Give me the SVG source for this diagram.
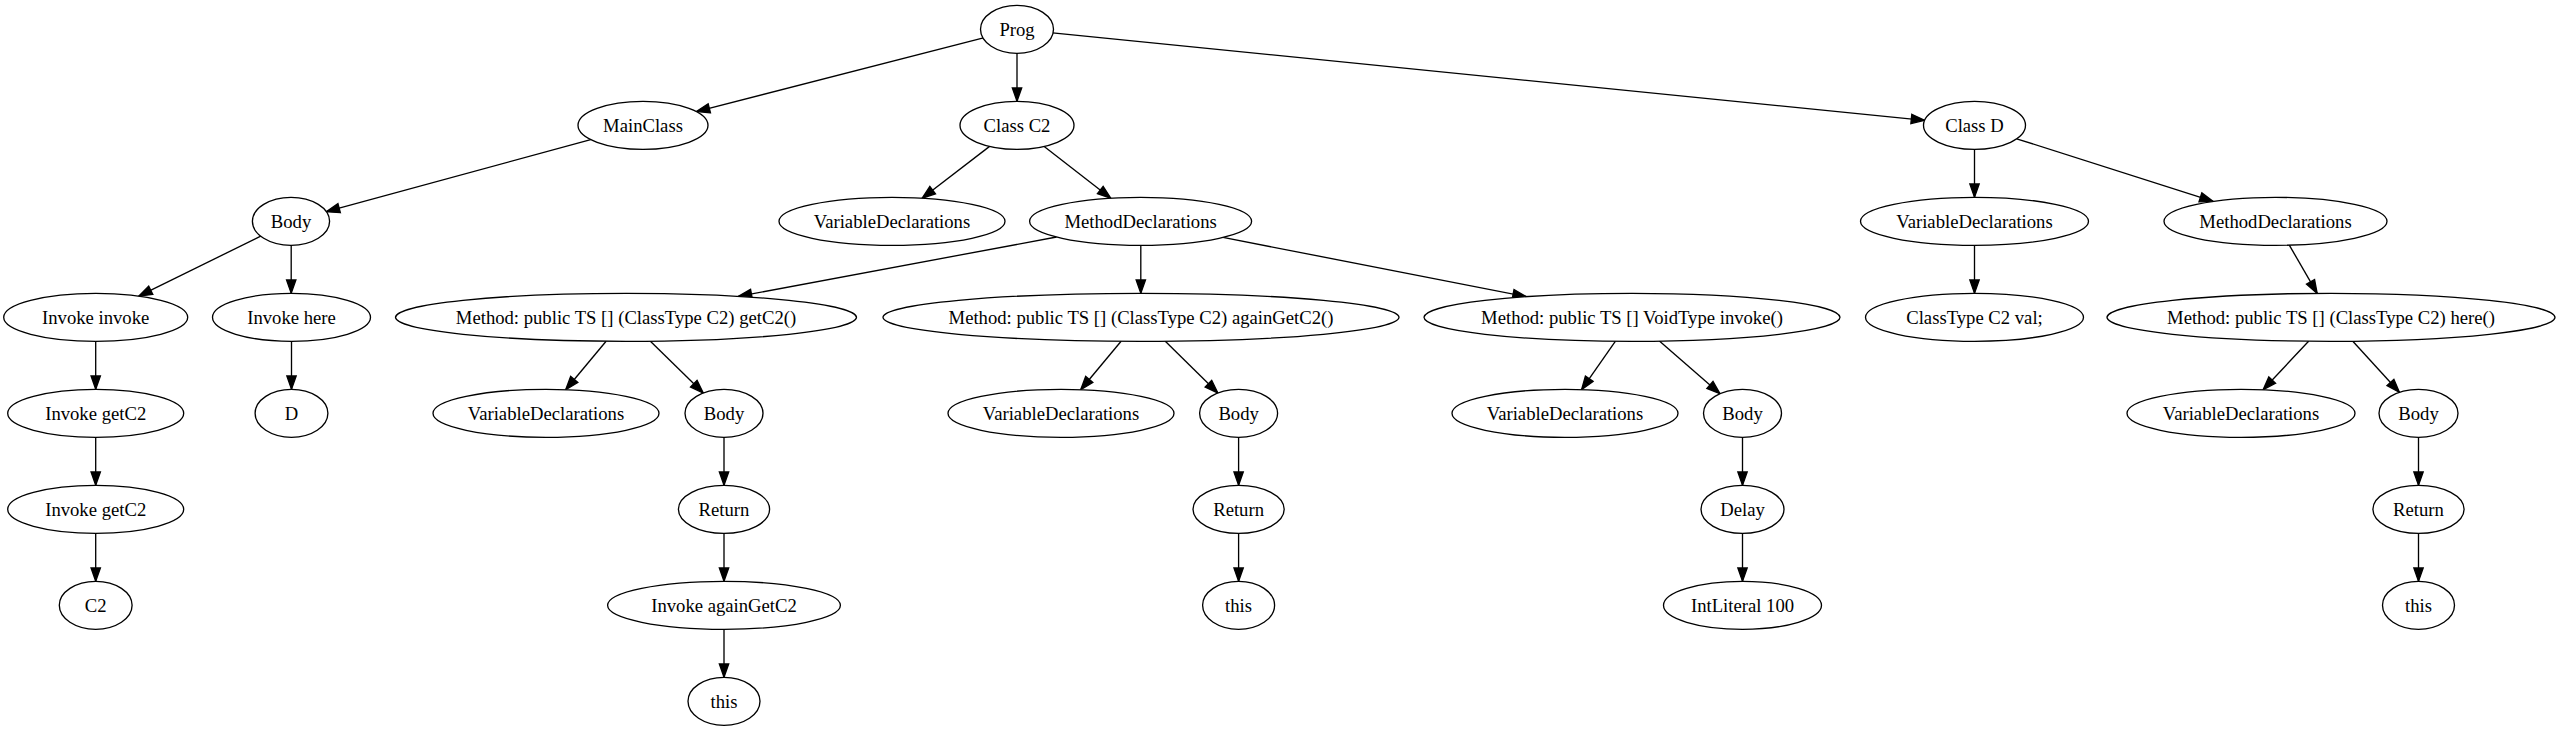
<svg xmlns="http://www.w3.org/2000/svg" width="2560" height="731" viewBox="0 0 2560 731">
<style>
ellipse{fill:#fff;stroke:#000;stroke-width:1.33}
text{font-family:"Liberation Serif","Times New Roman",serif;font-size:18.67px;text-anchor:middle;fill:#000}
.e line{stroke:#000;stroke-width:1.33;marker-end:url(#a)}
</style>
<defs>
<marker id="a" markerUnits="userSpaceOnUse" markerWidth="16" markerHeight="12" refX="13.33" refY="4.67" orient="auto" overflow="visible">
<path d="M0,0 L13.33,4.67 L0,9.33 z" fill="#000" stroke="#000" stroke-width="1.33"/>
</marker>
</defs>
<rect width="2560" height="731" fill="#fff"/>
<g class="e" id="edges">
<line x1="983.4" y1="37.9" x2="696.4" y2="111.6"/>
<line x1="1017" y1="53.33" x2="1017" y2="101.33"/>
<line x1="1052.6" y1="32.9" x2="1924.6" y2="120.3"/>
<line x1="590.7" y1="139.6" x2="326.3" y2="211.7"/>
<line x1="989.6" y1="146.4" x2="922.1" y2="198.2"/>
<line x1="1044.2" y1="146.4" x2="1110.8" y2="198.2"/>
<line x1="1974.5" y1="149.33" x2="1974.5" y2="197.33"/>
<line x1="2016.7" y1="138.8" x2="2213.1" y2="201.4"/>
<line x1="260.7" y1="236.2" x2="138.8" y2="296.1"/>
<line x1="291.2" y1="245.33" x2="291.2" y2="293.33"/>
<line x1="1056.6" y1="237.0" x2="738.3" y2="296.4"/>
<line x1="1140.8" y1="245.33" x2="1140.8" y2="293.33"/>
<line x1="1223.0" y1="237.4" x2="1526.2" y2="296.6"/>
<line x1="1974.5" y1="245.33" x2="1974.5" y2="293.33"/>
<line x1="2289.3" y1="245.1" x2="2317.2" y2="293.4"/>
<line x1="95.7" y1="341.33" x2="95.7" y2="389.33"/>
<line x1="291.5" y1="341.33" x2="291.5" y2="389.33"/>
<line x1="606.1" y1="341.2" x2="565.7" y2="389.7"/>
<line x1="650.4" y1="341.2" x2="703.3" y2="393.0"/>
<line x1="1121.1" y1="341.3" x2="1080.7" y2="389.7"/>
<line x1="1165.3" y1="341.2" x2="1217.9" y2="393.0"/>
<line x1="1615.3" y1="341.3" x2="1581.6" y2="389.6"/>
<line x1="1659.4" y1="341.1" x2="1720.0" y2="393.7"/>
<line x1="2308.6" y1="341.2" x2="2263.1" y2="389.8"/>
<line x1="2352.8" y1="341.2" x2="2399.4" y2="392.3"/>
<line x1="95.7" y1="437.33" x2="95.7" y2="485.33"/>
<line x1="724" y1="437.33" x2="724" y2="485.33"/>
<line x1="1238.6" y1="437.33" x2="1238.6" y2="485.33"/>
<line x1="1742.5" y1="437.33" x2="1742.5" y2="485.33"/>
<line x1="2418.5" y1="437.33" x2="2418.5" y2="485.33"/>
<line x1="95.7" y1="533.33" x2="95.7" y2="581.33"/>
<line x1="724" y1="533.33" x2="724" y2="581.33"/>
<line x1="1238.6" y1="533.33" x2="1238.6" y2="581.33"/>
<line x1="1742.5" y1="533.33" x2="1742.5" y2="581.33"/>
<line x1="2418.5" y1="533.33" x2="2418.5" y2="581.33"/>
<line x1="724" y1="629.33" x2="724" y2="677.33"/>
</g>
<g id="prog"><ellipse cx="1017" cy="29.33" rx="36.5" ry="24"/><text x="1017" y="35.5">Prog</text></g>
<g id="mainclass"><ellipse cx="643" cy="125.33" rx="65" ry="24"/><text x="643" y="131.5">MainClass</text></g>
<g id="classc2"><ellipse cx="1017" cy="125.33" rx="57" ry="24"/><text x="1017" y="131.5">Class C2</text></g>
<g id="classd"><ellipse cx="1974.5" cy="125.33" rx="51" ry="24"/><text x="1974.5" y="131.5">Class D</text></g>
<g id="body_main"><ellipse cx="291" cy="221.33" rx="38.6" ry="24"/><text x="291" y="227.5">Body</text></g>
<g id="vd_c2"><ellipse cx="892" cy="221.33" rx="113" ry="24"/><text x="892" y="227.5">VariableDeclarations</text></g>
<g id="md_c2"><ellipse cx="1140.6" cy="221.33" rx="111" ry="24"/><text x="1140.6" y="227.5">MethodDeclarations</text></g>
<g id="vd_d"><ellipse cx="1974.5" cy="221.33" rx="114" ry="24"/><text x="1974.5" y="227.5">VariableDeclarations</text></g>
<g id="md_d"><ellipse cx="2275.5" cy="221.33" rx="111.5" ry="24"/><text x="2275.5" y="227.5">MethodDeclarations</text></g>
<g id="invoke_invoke"><ellipse cx="95.7" cy="317.33" rx="92" ry="24"/><text x="95.7" y="323.5">Invoke invoke</text></g>
<g id="invoke_here"><ellipse cx="291.5" cy="317.33" rx="79" ry="24"/><text x="291.5" y="323.5">Invoke here</text></g>
<g id="m_getc2"><ellipse cx="626" cy="317.33" rx="230.5" ry="24"/><text x="626" y="323.5">Method: public TS [] (ClassType C2) getC2()</text></g>
<g id="m_again"><ellipse cx="1141" cy="317.33" rx="258" ry="24"/><text x="1141" y="323.5">Method: public TS [] (ClassType C2) againGetC2()</text></g>
<g id="m_invoke"><ellipse cx="1632" cy="317.33" rx="208" ry="24"/><text x="1632" y="323.5">Method: public TS [] VoidType invoke()</text></g>
<g id="classtype_val"><ellipse cx="1974.5" cy="317.33" rx="109" ry="24"/><text x="1974.5" y="323.5">ClassType C2 val;</text></g>
<g id="m_here"><ellipse cx="2331" cy="317.33" rx="224" ry="24"/><text x="2331" y="323.5">Method: public TS [] (ClassType C2) here()</text></g>
<g id="invoke_getc2_a"><ellipse cx="95.7" cy="413.33" rx="88" ry="24"/><text x="95.7" y="419.5">Invoke getC2</text></g>
<g id="d"><ellipse cx="291.5" cy="413.33" rx="36.4" ry="24"/><text x="291.5" y="419.5">D</text></g>
<g id="vd1"><ellipse cx="546" cy="413.33" rx="113" ry="24"/><text x="546" y="419.5">VariableDeclarations</text></g>
<g id="body2"><ellipse cx="724" cy="413.33" rx="39" ry="24"/><text x="724" y="419.5">Body</text></g>
<g id="vd2"><ellipse cx="1061" cy="413.33" rx="113" ry="24"/><text x="1061" y="419.5">VariableDeclarations</text></g>
<g id="body3"><ellipse cx="1238.6" cy="413.33" rx="39" ry="24"/><text x="1238.6" y="419.5">Body</text></g>
<g id="vd3"><ellipse cx="1565" cy="413.33" rx="113" ry="24"/><text x="1565" y="419.5">VariableDeclarations</text></g>
<g id="body4"><ellipse cx="1742.5" cy="413.33" rx="39" ry="24"/><text x="1742.5" y="419.5">Body</text></g>
<g id="vd4"><ellipse cx="2241" cy="413.33" rx="114" ry="24"/><text x="2241" y="419.5">VariableDeclarations</text></g>
<g id="body5"><ellipse cx="2418.5" cy="413.33" rx="39.5" ry="24"/><text x="2418.5" y="419.5">Body</text></g>
<g id="invoke_getc2_b"><ellipse cx="95.7" cy="509.33" rx="88" ry="24"/><text x="95.7" y="515.5">Invoke getC2</text></g>
<g id="return1"><ellipse cx="724" cy="509.33" rx="45.6" ry="24"/><text x="724" y="515.5">Return</text></g>
<g id="return2"><ellipse cx="1238.6" cy="509.33" rx="45.6" ry="24"/><text x="1238.6" y="515.5">Return</text></g>
<g id="delay"><ellipse cx="1742.5" cy="509.33" rx="41.5" ry="24"/><text x="1742.5" y="515.5">Delay</text></g>
<g id="return3"><ellipse cx="2418.5" cy="509.33" rx="45.6" ry="24"/><text x="2418.5" y="515.5">Return</text></g>
<g id="c2"><ellipse cx="95.7" cy="605.33" rx="36.4" ry="24"/><text x="95.7" y="611.5">C2</text></g>
<g id="invoke_again"><ellipse cx="724" cy="605.33" rx="116.4" ry="24"/><text x="724" y="611.5">Invoke againGetC2</text></g>
<g id="this2"><ellipse cx="1238.6" cy="605.33" rx="36" ry="24"/><text x="1238.6" y="611.5">this</text></g>
<g id="intliteral"><ellipse cx="1742.5" cy="605.33" rx="79" ry="24"/><text x="1742.5" y="611.5">IntLiteral 100</text></g>
<g id="this3"><ellipse cx="2418.5" cy="605.33" rx="36" ry="24"/><text x="2418.5" y="611.5">this</text></g>
<g id="this1"><ellipse cx="724" cy="701.33" rx="36" ry="24"/><text x="724" y="707.5">this</text></g>
</svg>
